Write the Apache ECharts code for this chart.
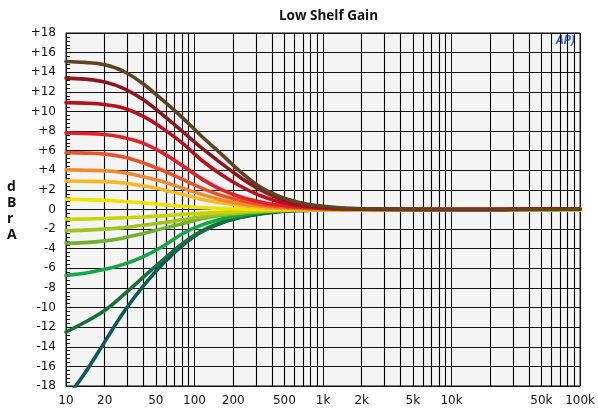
<!DOCTYPE html>
<html>
<head>
<meta charset="utf-8">
<script src="https://cdn.jsdelivr.net/npm/echarts@6/dist/echarts.min.js"></script>
<style>
html,body{margin:0;padding:0;background:#fff;}
#chart{width:598px;height:414px;}
</style>
</head>
<body>
<div id="chart"></div>
<script>
// Frequencies (Hz) at which curve values were read (half-octave steps, then sparse in the flat region)
const freqs = [10, 14, 20, 28, 40, 56, 80, 113, 160, 226, 320, 453, 640, 905, 1280, 1810, 5000, 10000, 20000, 50000, 100000];

// Curve values (dB)
const brown       = [15.1, 15.0, 14.75, 14.1, 12.8, 11.2, 9.4, 7.5, 5.7, 3.9, 2.35, 1.35, 0.75, 0.4, 0.2, 0.1, 0.02, 0, 0, 0, 0.02];
const darkRed     = [13.4, 13.3, 13.0, 12.35, 11.2, 9.7, 8.0, 6.3, 4.75, 3.3, 2.05, 1.15, 0.6, 0.3, 0.15, 0.07, 0.01, 0, 0, 0.05, 0.05];
const crimson     = [10.9, 10.85, 10.7, 10.35, 9.5, 8.3, 6.8, 5.05, 3.6, 2.4, 1.45, 0.8, 0.42, 0.2, 0.1, 0.05, 0.01, 0, 0, 0.05, 0.05];
const brightRed   = [7.8, 7.75, 7.65, 7.35, 6.75, 5.8, 4.5, 3.15, 2.05, 1.3, 0.8, 0.45, 0.25, 0.12, 0.06, 0.03, 0, 0, 0, 0.05, 0.05];
const orangeRed   = [5.8, 5.75, 5.65, 5.35, 4.75, 4.0, 3.1, 2.2, 1.45, 0.95, 0.55, 0.3, 0.15, 0.08, 0.04, 0.02, 0, 0, 0, 0.03, 0.03];
const orange      = [4.05, 4.0, 3.95, 3.75, 3.35, 2.85, 2.2, 1.55, 1.0, 0.62, 0.35, 0.18, 0.1, 0.05, 0.02, 0.01, 0, 0, 0, 0.02, 0.02];
const amber       = [2.9, 2.88, 2.84, 2.7, 2.4, 2.05, 1.55, 1.05, 0.68, 0.4, 0.22, 0.1, 0.05, 0.02, 0.01, 0, 0, 0, 0, 0, 0];
const yellow      = [1.05, 1.0, 0.93, 0.82, 0.68, 0.5, 0.33, 0.18, 0.1, 0.05, 0.03, 0.01, 0, 0, 0, 0, 0, 0, 0, 0, 0];
const yellowGreen = [-1.0, -0.97, -0.92, -0.84, -0.76, -0.65, -0.5, -0.38, -0.28, -0.2, -0.12, -0.06, -0.03, -0.02, -0.01, 0, 0, 0, 0, -0.03, -0.05];
const limeGreen   = [-2.15, -2.1, -2.0, -1.85, -1.6, -1.35, -1.05, -0.75, -0.5, -0.32, -0.2, -0.1, -0.05, -0.03, -0.01, 0, 0, 0, 0, -0.03, -0.05];
const green       = [-3.45, -3.38, -3.2, -2.9, -2.45, -1.95, -1.45, -0.95, -0.6, -0.38, -0.22, -0.1, -0.05, -0.03, -0.01, 0, 0, 0, 0, -0.03, -0.05];
const emerald     = [-6.7, -6.5, -6.1, -5.6, -4.8, -3.8, -2.5, -1.6, -1.0, -0.6, -0.3, -0.15, -0.08, -0.04, -0.02, 0, 0, 0, 0, 0, 0];
const darkGreen   = [-12.5, -11.5, -10.3, -8.7, -6.9, -5.2, -3.5, -2.2, -1.35, -0.8, -0.45, -0.22, -0.1, -0.05, -0.02, 0, 0, 0, 0, 0, 0];
const teal        = [-19.3, -16.7, -13.5, -10.5, -7.8, -5.6, -3.7, -2.3, -1.4, -0.82, -0.45, -0.22, -0.1, -0.05, -0.02, 0, 0, 0, 0, 0, 0];

// Tick labels
const xLabeledMinor = [20, 50, 200, 500, 2000, 5000, 50000];
const xMinorLines = [20,30,40,50,60,70,80,90,200,300,400,500,600,700,800,900,2000,3000,4000,5000,6000,7000,8000,9000,20000,30000,40000,50000,60000,70000,80000,90000];

const curves = [
  {name: 'teal', data: teal, color: '#0e5a56'},
  {name: 'darkGreen', data: darkGreen, color: '#17703c'},
  {name: 'emerald', data: emerald, color: '#12a84a'},
  {name: 'green', data: green, color: '#74b030'},
  {name: 'limeGreen', data: limeGreen, color: '#a2c21e'},
  {name: 'yellowGreen', data: yellowGreen, color: '#c9d300'},
  {name: 'yellow', data: yellow, color: '#f2e200'},
  {name: 'amber', data: amber, color: '#f7b924'},
  {name: 'orange', data: orange, color: '#ef8a30'},
  {name: 'orangeRed', data: orangeRed, color: '#e8532a'},
  {name: 'brightRed', data: brightRed, color: '#e2202c'},
  {name: 'crimson', data: crimson, color: '#b5121e'},
  {name: 'darkRed', data: darkRed, color: '#8a1620'},
  {name: 'brown', data: brown, color: '#5e4424'}
];

const fmtHz = v => v >= 1000 ? (v / 1000) + 'k' : String(v);
const labelFont = 'DejaVu Sans';

const series = curves.map((c, i) => {
  const s = {
    name: c.name,
    type: 'line',
    data: freqs.map((f, k) => [f, c.data[k]]),
    showSymbol: false,
    smooth: 0.4,
    clip: true,
    lineStyle: {color: c.color, width: 3.6, cap: 'round', join: 'round'},
    itemStyle: {color: c.color},
    z: 3 + i
  };
  if (i === 0) {
    s.markLine = {
      silent: true,
      symbol: ['none', 'none'],
      z: 1,
      animation: false,
      lineStyle: {color: '#000', width: 1.1, type: 'solid'},
      label: {show: false},
      emphasis: {disabled: true},
      data: xMinorLines.map(f => ({
        xAxis: f,
        lineStyle: {color: '#000', width: 1.1, type: 'solid'},
        label: xLabeledMinor.includes(f)
          ? {show: true, position: 'start', formatter: fmtHz(f), color: '#111', fontSize: 12, fontFamily: labelFont, distance: 9}
          : {show: false}
      }))
    };
  }
  return s;
});

const chart = echarts.init(document.getElementById('chart'), null, {renderer: 'canvas'});
chart.setOption({
  animation: false,
  backgroundColor: '#ffffff',
  title: {
    text: 'Low Shelf Gain',
    left: 323.5,
    textAlign: 'center',
    top: 4,
    textStyle: {fontFamily: 'Open Sans', fontWeight: 'bold', fontSize: 13.5, color: '#111'}
  },
  grid: {
    left: 66, right: 17, top: 33, bottom: 28,
    show: true, backgroundColor: '#f4f4f4', borderColor: '#111', borderWidth: 1
  },
  xAxis: {
    type: 'log',
    logBase: 10,
    min: 10,
    max: 100000,
    axisLine: {show: true, lineStyle: {color: '#111', width: 1}},
    axisTick: {show: false},
    axisLabel: {formatter: v => fmtHz(v), color: '#111', fontSize: 12, fontFamily: labelFont, margin: 9},
    splitLine: {show: true, lineStyle: {color: '#111', width: 1}},
    minorTick: {show: false},
    minorSplitLine: {show: false}
  },
  yAxis: {
    type: 'value',
    min: -18,
    max: 18,
    interval: 2,
    axisLine: {show: true, lineStyle: {color: '#111', width: 1}},
    axisTick: {show: true, inside: true, length: 6, lineStyle: {color: '#111'}},
    minorTick: {show: true, splitNumber: 5, length: 4, lineStyle: {color: '#111'}},
    axisLabel: {formatter: v => v > 0 ? '+' + v : String(v), color: '#111', fontSize: 12, fontFamily: labelFont, margin: 10},
    splitLine: {show: true, lineStyle: {color: '#111', width: 1}}
  },
  graphic: [
    {
      type: 'text', left: 7, top: 179,
      style: {text: 'd\nB\nr\nA', fontFamily: 'Open Sans', fontWeight: 'bold', fontSize: 14, lineHeight: 16, fill: '#111', align: 'center'}
    },
    {
      type: 'text', left: 556, top: 35,
      style: {text: 'AP)', fontFamily: 'Open Sans', fontStyle: 'italic', fontWeight: 'bold', fontSize: 12, fill: '#2a6fd6'}
    }
  ],
  series: series
});
</script>
</body>
</html>
